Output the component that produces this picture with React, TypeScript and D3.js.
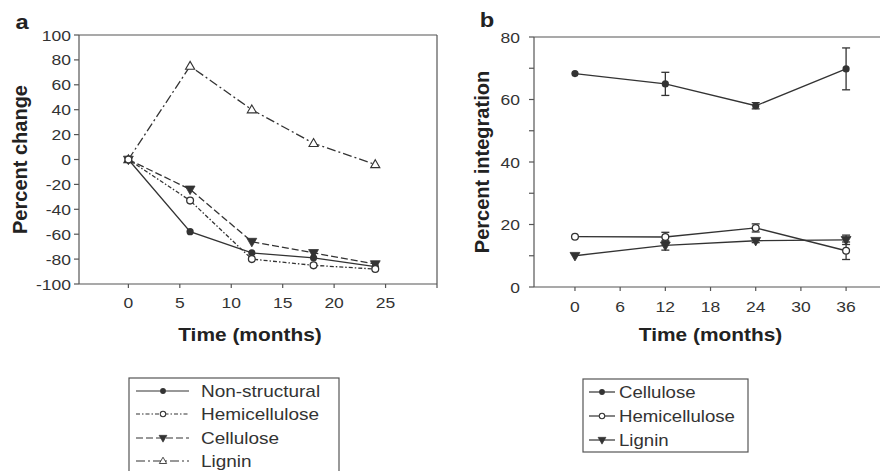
import React from 'react'
import * as d3 from 'd3'

// panel a: percent change of each fraction
const monthsA = [0, 6, 12, 18, 24]
const nonStructural = [0, -58, -75, -79, -86]
const hemicelluloseA = [0, -33, -80, -85, -88]
const celluloseA = [0, -24, -66, -75, -84]
const ligninA = [0, 75, 40, 13, -4]
const xTicksA = [0, 5, 10, 15, 20, 25]
const yTicksA = [-100, -80, -60, -40, -20, 0, 20, 40, 60, 80, 100]

// panel b: percent integration, with error bars
const monthsB = [0, 12, 24, 36]
const celluloseB = [68.3, 65.0, 58.0, 69.8]
const celluloseErr = [0, 3.7, 1.0, 6.7]
const hemicelluloseB = [16.1, 16.0, 18.9, 11.6]
const hemicelluloseErr = [0, 1.5, 1.3, 2.8]
const ligninB = [10.0, 13.3, 14.8, 15.1]
const ligninErr = [0, 1.5, 0.6, 1.5]
const xTicksB = [0, 6, 12, 18, 24, 30, 36]
const yTicksB = [0, 20, 40, 60, 80]
const yMinorB = [10, 30, 50, 70]

const FONT = '"Liberation Sans", Arial, Helvetica, sans-serif'
const INK = '#333'
const AXIS = '#555'
const SX = 1.13 // the source image is stretched horizontally

type Marker = 'dot' | 'circle' | 'down' | 'up'

function Mark({ x, y, kind }: { x: number; y: number; kind: Marker }) {
  if (kind === 'dot') return <circle cx={x} cy={y} r={3.6} fill={INK} />
  if (kind === 'circle') return <circle cx={x} cy={y} r={3.4} fill="#fff" stroke={INK} strokeWidth={1.3} />
  const path = d3.symbol(d3.symbolTriangle, kind === 'down' ? 42 : 36)() as string
  return (
    <path
      d={path}
      transform={`translate(${x},${y + (kind === 'down' ? -0.5 : 0.5)}) rotate(${kind === 'down' ? 180 : 0})`}
      fill={kind === 'down' ? INK : '#fff'}
      stroke={INK}
      strokeWidth={kind === 'down' ? 0.8 : 1.1}
    />
  )
}

function Txt({ x, y, children, size, anchor = 'middle', bold = false, fill = INK, sx = SX }: any) {
  return (
    <g transform={`translate(${x},${y}) scale(${sx},1)`}>
      <text textAnchor={anchor} fontSize={size} fontWeight={bold ? 'bold' : 'normal'} fill={fill} fontFamily={FONT}>
        {children}
      </text>
    </g>
  )
}

const seriesA: { name: string; values: number[]; marker: Marker; dash: string }[] = [
  { name: 'Lignin', values: ligninA, marker: 'up', dash: '9,3,2,3' },
  { name: 'Cellulose', values: celluloseA, marker: 'down', dash: '7,3' },
  { name: 'Non-structural', values: nonStructural, marker: 'dot', dash: '' },
  { name: 'Hemicellulose', values: hemicelluloseA, marker: 'circle', dash: '4,2,1.5,2' },
]
const legendOrderA = ['Non-structural', 'Hemicellulose', 'Cellulose', 'Lignin']

const seriesB: { name: string; values: number[]; err: number[]; marker: Marker }[] = [
  { name: 'Cellulose', values: celluloseB, err: celluloseErr, marker: 'dot' },
  { name: 'Lignin', values: ligninB, err: ligninErr, marker: 'down' },
  { name: 'Hemicellulose', values: hemicelluloseB, err: hemicelluloseErr, marker: 'circle' },
]
const legendOrderB = ['Cellulose', 'Hemicellulose', 'Lignin']

export default function App() {
  const W = 880
  const H = 471

  const xA = d3.scaleLinear().domain([-4.8, 30]).range([79, 437])
  const yA = d3.scaleLinear().domain([-100, 100]).range([284, 35])
  const xB = d3.scaleLinear().domain([-5.44, 41.3]).range([534, 886])
  const yB = d3.scaleLinear().domain([0, 80]).range([287, 37])

  const [ax0, ax1] = xA.range()
  const [ay0, ay1] = yA.range()
  const [bx0, bx1] = xB.range()
  const [by0, by1] = yB.range()

  const lineA = d3.line<number>().x((_, i) => xA(monthsA[i])).y(d => yA(d))
  const lineB = d3.line<number>().x((_, i) => xB(monthsB[i])).y(d => yB(d))

  const legendA = { x0: 129, y0: 378, x1: 339, y1: 490, rows: [391, 414, 438, 461] }
  const legendB = { x0: 583, y0: 379, x1: 748, y1: 452, rows: [392, 416, 440] }

  return (
    <svg width={W} height={H} style={{ position: 'absolute', left: 0, top: 0, background: '#fff' }}>
      {/* ---------- panel a ---------- */}
      <Txt x={22} y={29} size={21} bold fill="#222">a</Txt>
      <line x1={ax0} x2={ax0} y1={ay1} y2={ay0} stroke={AXIS} strokeWidth={1.2} />
      <line x1={ax0} x2={ax1} y1={ay0} y2={ay0} stroke={AXIS} strokeWidth={1.2} />
      <line x1={ax0} x2={ax1} y1={ay1} y2={ay1} stroke={AXIS} strokeWidth={1.2} />
      <line x1={ax1} x2={ax1} y1={ay1} y2={ay0 + 4} stroke={AXIS} strokeWidth={1.2} />
      {yTicksA.map(t => (
        <g key={t}>
          <line x1={ax0 - 5} x2={ax0} y1={yA(t)} y2={yA(t)} stroke={AXIS} strokeWidth={1.2} />
          <Txt x={ax0 - 8} y={yA(t) + 5.5} size={15.5} anchor="end">{t}</Txt>
        </g>
      ))}
      {xTicksA.map(t => (
        <g key={t}>
          <line x1={xA(t)} x2={xA(t)} y1={ay0} y2={ay0 + 4} stroke={AXIS} strokeWidth={1.2} />
          <Txt x={xA(t)} y={308} size={15.5}>{t}</Txt>
        </g>
      ))}
      <Txt x={(xA(0) + xA(25)) / 2 - 7} y={341} size={18.5} bold fill="#222">Time (months)</Txt>
      <text
        transform={`translate(27,${(ay0 + ay1) / 2}) rotate(-90)`}
        textAnchor="middle"
        fontSize={20}
        fontWeight="bold"
        fill="#222"
        fontFamily={FONT}
      >
        Percent change
      </text>
      {seriesA.map(s => (
        <path key={s.name} d={lineA(s.values) as string} fill="none" stroke={INK} strokeWidth={1.3} strokeDasharray={s.dash} />
      ))}
      {seriesA.map(s => (
        <g key={s.name}>
          {s.values.map((v, i) => (
            <Mark key={i} x={xA(monthsA[i])} y={yA(v)} kind={s.marker} />
          ))}
        </g>
      ))}

      {/* legend a */}
      <rect x={legendA.x0} y={legendA.y0} width={legendA.x1 - legendA.x0} height={legendA.y1 - legendA.y0} fill="none" stroke={AXIS} strokeWidth={1.2} />
      {legendOrderA.map((name, i) => {
        const s = seriesA.find(d => d.name === name)!
        const y = legendA.rows[i]
        return (
          <g key={name}>
            <line x1={136} x2={189} y1={y} y2={y} stroke={INK} strokeWidth={1.2} strokeDasharray={s.dash} />
            <g transform={`translate(163,${y}) scale(0.8)`}>
              <Mark x={0} y={0} kind={s.marker} />
            </g>
            <Txt x={201} y={y + 6} size={16.8} anchor="start">{name}</Txt>
          </g>
        )
      })}

      {/* ---------- panel b ---------- */}
      <Txt x={487} y={27} size={21} bold fill="#222">b</Txt>
      <line x1={bx0} x2={bx0} y1={by1} y2={by0} stroke={AXIS} strokeWidth={1.2} />
      <line x1={bx0} x2={bx1} y1={by0} y2={by0} stroke={AXIS} strokeWidth={1.2} />
      <line x1={bx0} x2={bx1} y1={by1} y2={by1} stroke={AXIS} strokeWidth={1.2} />
      {yTicksB.map(t => (
        <g key={t}>
          <line x1={bx0 - 5} x2={bx0} y1={yB(t)} y2={yB(t)} stroke={AXIS} strokeWidth={1.2} />
          <Txt x={bx0 - 14} y={yB(t) + 5.5} size={15.5} anchor="end">{t}</Txt>
        </g>
      ))}
      {yMinorB.map(t => (
        <line key={t} x1={bx0 - 5} x2={bx0} y1={yB(t)} y2={yB(t)} stroke={AXIS} strokeWidth={1.2} />
      ))}
      {xTicksB.map(t => (
        <g key={t}>
          <line x1={xB(t)} x2={xB(t)} y1={by0} y2={by0 + 4} stroke={AXIS} strokeWidth={1.2} />
          <Txt x={xB(t)} y={312} size={15.5}>{t}</Txt>
        </g>
      ))}
      <Txt x={xB(18)} y={341} size={18.5} bold fill="#222">Time (months)</Txt>
      <text
        transform={`translate(489,${(by0 + by1) / 2}) rotate(-90)`}
        textAnchor="middle"
        fontSize={20}
        fontWeight="bold"
        fill="#222"
        fontFamily={FONT}
      >
        Percent integration
      </text>
      {seriesB.map(s => (
        <path key={s.name} d={lineB(s.values) as string} fill="none" stroke={INK} strokeWidth={1.3} />
      ))}
      {seriesB.map(s => (
        <g key={s.name}>
          {s.values.map((v, i) => {
            const cx = xB(monthsB[i])
            const e = s.err[i]
            return (
              <g key={i}>
                {e > 0 && (
                  <g stroke={INK} strokeWidth={1.3}>
                    <line x1={cx} x2={cx} y1={yB(v - e)} y2={yB(v + e)} />
                    <line x1={cx - 4} x2={cx + 4} y1={yB(v - e)} y2={yB(v - e)} />
                    <line x1={cx - 4} x2={cx + 4} y1={yB(v + e)} y2={yB(v + e)} />
                  </g>
                )}
                <Mark x={cx} y={yB(v)} kind={s.marker} />
              </g>
            )
          })}
        </g>
      ))}

      {/* legend b */}
      <rect x={legendB.x0} y={legendB.y0} width={legendB.x1 - legendB.x0} height={legendB.y1 - legendB.y0} fill="none" stroke={AXIS} strokeWidth={1.2} />
      {legendOrderB.map((name, i) => {
        const s = seriesB.find(d => d.name === name)!
        const y = legendB.rows[i]
        return (
          <g key={name}>
            <line x1={589} x2={615} y1={y} y2={y} stroke={INK} strokeWidth={1.2} />
            <g transform={`translate(602,${y}) scale(0.8)`}>
              <Mark x={0} y={0} kind={s.marker} />
            </g>
            <Txt x={619} y={y + 6} size={16.5} anchor="start">{name}</Txt>
          </g>
        )
      })}
    </svg>
  )
}
